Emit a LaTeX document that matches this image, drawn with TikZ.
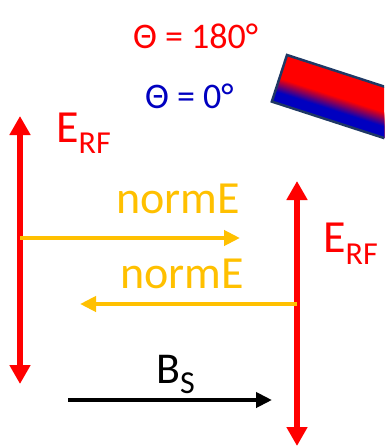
\documentclass[tikz,border=0pt]{standalone}
\usepackage{fontspec}
\setmainfont{Carlito}
\usetikzlibrary{arrows.meta}
\definecolor{myred}{RGB}{255,0,0}
\definecolor{myblue}{RGB}{0,0,192}
\definecolor{myyellow}{RGB}{255,192,0}
\definecolor{navy}{RGB}{31,56,100}
\tikzset{
  redarrow/.style={draw=myred, line width=6pt, {Triangle[width=20pt,length=19pt]}-{Triangle[width=20pt,length=19pt]}},
  yelarrow/.style={draw=myyellow, line width=4.5pt, -{Triangle[width=15pt,length=16pt]}},
  blkarrow/.style={draw=black, line width=4.5pt, -{Triangle[width=15pt,length=16pt]}},
  lbl/.style={inner sep=0pt, anchor=base west},
  big/.style={font=\fontsize{46}{46}\selectfont},
  mid/.style={font=\fontsize{36}{36}\selectfont},
  magnetborder/.style={draw=navy, line width=2.5pt}
}
\begin{document}
\begin{tikzpicture}[x=1pt,y=-1pt]
\useasboundingbox (0,0) rectangle (384,447);
\clip (0,0) rectangle (384,447);
% magnet
\begin{scope}[shift={(287,55)}, rotate=-18]
  \fill[myred] (0,0) rectangle (320,49);
  \foreach \i in {24,...,38} {
    \pgfmathsetmacro{\p}{min(100,max(0,100*(38-\i)/14))}
    \fill[myred!\p!myblue] (0,\i) rectangle (320,49);
  }
  \draw[magnetborder] (0,0) rectangle (320,49);
\end{scope}
% angle labels
\node[lbl, mid, text=myred] (t180) at (133,48) {Θ = 180°};
\node[lbl, mid, text=myblue] (t0) at (145,108) {Θ = 0°};
% red E_RF arrows
\coordinate (L1) at (20,116);
\coordinate (L2) at (20,384);
\draw[redarrow] (L1) -- (L2);
\coordinate (R1) at (297,181);
\coordinate (R2) at (297,446);
\draw[redarrow] (R1) -- (R2);
\node[lbl, text=myred] (erfL) at (56,142) {{\fontsize{46}{46}\selectfont E}\raisebox{-11pt}{\fontsize{32}{32}\selectfont RF}};
\node[lbl, text=myred] (erfR) at (323,252) {{\fontsize{46}{46}\selectfont E}\raisebox{-12pt}{\fontsize{32}{32}\selectfont RF}};
% normE arrows
\coordinate (Y1s) at (20,238);
\coordinate (Y1e) at (240,238);
\draw[yelarrow] (Y1s) -- (Y1e);
\node[lbl, big, text=myyellow] (n1) at (116,213) {normE};
\coordinate (Y2s) at (297,304);
\coordinate (Y2e) at (80,304);
\draw[yelarrow] (Y2s) -- (Y2e);
\node[lbl, big, text=myyellow] (n2) at (120,288) {normE};
% B_S
\coordinate (Bs) at (68,400);
\coordinate (Be) at (272,400);
\draw[blkarrow] (Bs) -- (Be);
\node[lbl, text=black] (bs) at (156,383) {{\fontsize{44}{44}\selectfont B}\raisebox{-10pt}{\fontsize{32}{32}\selectfont S}};
\end{tikzpicture}
\end{document}
